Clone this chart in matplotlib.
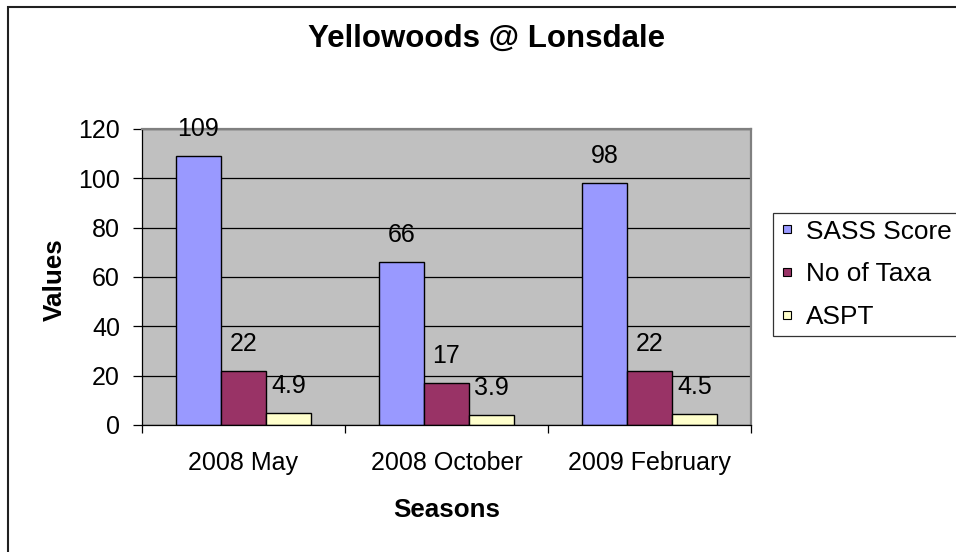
import matplotlib
matplotlib.use("Agg")
import matplotlib.pyplot as plt
from matplotlib.lines import Line2D
from matplotlib.patches import Rectangle
import numpy as np

plt.rcParams['font.family'] = ['Liberation Sans', 'DejaVu Sans']

title = "Yellowoods @ Lonsdale"
categories = ["2008 May", "2008 October", "2009 February"]
series_names = ["SASS Score", "No of Taxa", "ASPT"]
sass_score = [109, 66, 98]
no_of_taxa = [22, 17, 22]
aspt = [4.9, 3.9, 4.5]
yticks = [0, 20, 40, 60, 80, 100, 120]
colors = ["#9999FF", "#993366", "#FFFFCC"]

W, H = 956, 552
fig = plt.figure(figsize=(W / 100, H / 100), dpi=100)
fig.patch.set_facecolor("white")

def fx(px):
    return px / W

def fy(py):
    return 1 - py / H

ax = fig.add_axes([fx(142), fy(425), fx(751) - fx(142), fy(129) - fy(425)])
ax.set_facecolor("#C0C0C0")

x = np.arange(len(categories))
width = 0.222
offsets = [-width, 0, width]
all_series = [sass_score, no_of_taxa, aspt]
for vals, off, col, name in zip(all_series, offsets, colors, series_names):
    bars = ax.bar(x + off, vals, width, color=col, edgecolor="black",
                  linewidth=1.0, zorder=3, label=name)
    for b, v in zip(bars, vals):
        ax.annotate(f"{v:g}", (b.get_x() + b.get_width() / 2, b.get_height()),
                    xytext=(0, 14.4), textcoords="offset points",
                    ha="center", va="baseline", fontsize=18, zorder=5,
                    annotation_clip=False)

ax.set_ylim(0, 120)
ax.set_xlim(-0.5, 2.5)
ax.set_yticks(yticks)
ax.set_yticklabels([str(t) for t in yticks], fontsize=18)
ax.yaxis.grid(True, color="black", linewidth=0.9, zorder=1)
ax.set_axisbelow(True)

ax.set_xticks([-0.5, 0.5, 1.5, 2.5])
ax.set_xticklabels([])
ax.set_xticks(x, minor=True)
ax.set_xticklabels(categories, minor=True, fontsize=18)
ax.tick_params(axis="x", which="major", length=6, width=0.9, direction="out", color="black")
ax.tick_params(axis="x", which="minor", length=0, pad=19)
ax.tick_params(axis="y", which="major", length=6.5, width=0.9, direction="out", pad=9.4)

for s in ["left", "bottom"]:
    ax.spines[s].set_color("black")
    ax.spines[s].set_linewidth(0.9)
    ax.spines[s].set_zorder(4)
for s in ["top", "right"]:
    ax.spines[s].set_color("#808080")
    ax.spines[s].set_linewidth(1.6)
    ax.spines[s].set_zorder(4)

fig.text(fx(487), fy(47), title, ha="center", va="baseline",
         fontsize=22.5, fontweight="bold")
fig.text(fx(447), fy(517), "Seasons", ha="center", va="baseline",
         fontsize=18.7, fontweight="bold")
fig.text(fx(62), fy(280), "Values", ha="center", va="baseline",
         fontsize=18.7, fontweight="bold", rotation=90, rotation_mode="anchor")

handles = [Line2D([], [], marker="s", linestyle="", markerfacecolor=c,
                  markeredgecolor="black", markeredgewidth=0.8, markersize=5.5)
           for c in colors]
leg = fig.legend(handles, series_names, loc="upper left",
                 bbox_to_anchor=(fx(773), fy(213)), fontsize=18.9,
                 frameon=True, fancybox=False, shadow=False,
                 borderpad=0.25, labelspacing=0.72, handlelength=0.6,
                 handletextpad=0.4, borderaxespad=0)
leg.get_frame().set_edgecolor("black")
leg.get_frame().set_linewidth(0.9)

fig.patches.append(Rectangle((fx(8), -0.1), 1.2, fy(7) + 0.1,
                             transform=fig.transFigure, fill=False,
                             edgecolor="#202020", linewidth=1.5))

fig.savefig("out.png", dpi=100)
